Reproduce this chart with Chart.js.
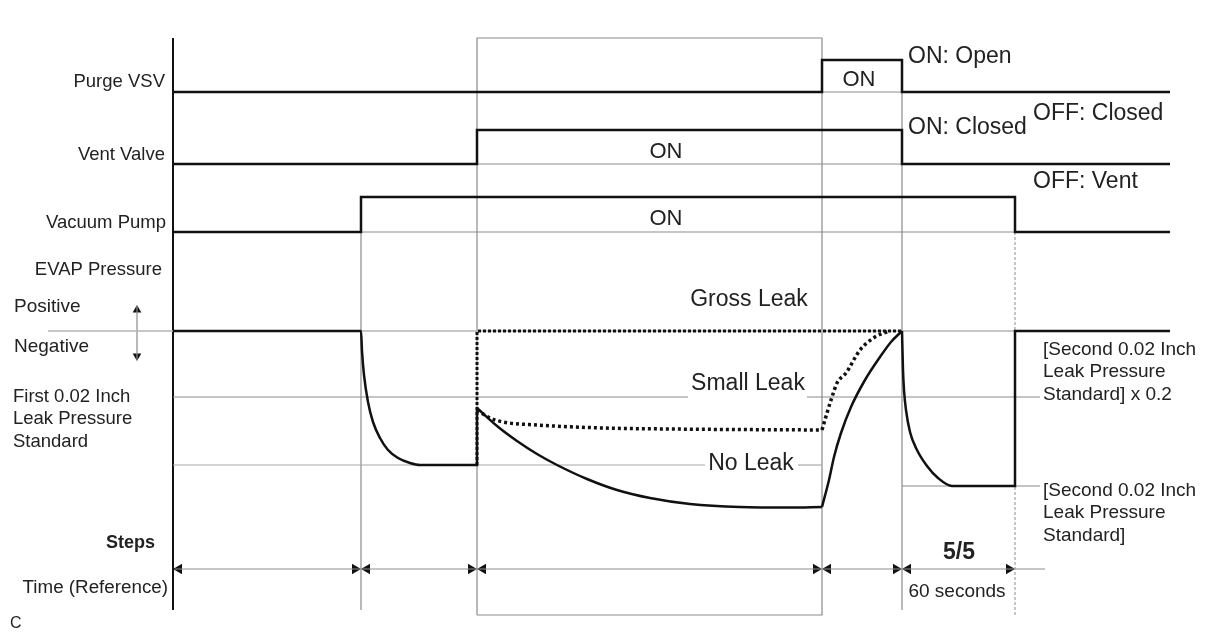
<!DOCTYPE html>
<html>
<head>
<meta charset="utf-8">
<script src="https://cdn.jsdelivr.net/npm/chart.js@4/dist/chart.umd.min.js"></script>
<style>
  html, body { margin: 0; padding: 0; background: #fff; }
  #wrap { width: 1212px; height: 634px; }
</style>
</head>
<body>
<div id="wrap"><canvas id="chart" width="1212" height="634"></canvas></div>
<script>
// time marks where the steps change
const stepBounds = [173, 361, 477, 822, 902, 1015];
const timeEnd = 1170;

// on/off signals: change times and state after each change
const purgeTimes = [173, 822, 902, 1170];
const purgeStates = [0, 1, 0, 0];
const ventTimes = [173, 477, 902, 1170];
const ventStates = [0, 1, 0, 0];
const pumpTimes = [173, 361, 1015, 1170];
const pumpStates = [0, 1, 0, 0];

// EVAP pressure, 0 = atmosphere, negative = vacuum
const pumpDownTimes = [173, 361, 362, 364, 368, 373, 380, 388, 398, 410, 420, 477, 477];
const pumpDownPressure = [0, 0, -20, -44, -71, -91, -107, -119, -127, -132, -134, -134, -77];
const noLeakTimes = [477, 497, 517, 537, 557, 587, 617, 650, 690, 740, 790, 822];
const noLeakPressure = [-77, -95, -110, -123, -134, -148, -159, -167, -173, -176, -176.5, -176];
const riseTimes = [822, 829, 834, 841, 851, 865, 880, 891, 902];
const risePressure = [-176, -149, -126, -102, -76, -49, -26, -11, 0];
const checkTimes = [902, 903, 904, 906, 910, 917, 927, 938, 952, 1015, 1015, 1170];
const checkPressure = [0, -39, -59, -79, -101, -119, -135, -147, -155, -155, 0, 0];
const smallLeakTimes = [477, 490, 503, 537, 603, 670, 822];
const smallLeakPressure = [-79, -87, -91, -94, -97, -98, -99];
const smallRiseTimes = [822, 827, 832, 837, 846, 860, 875, 889];
const smallRisePressure = [-99, -82, -66, -52, -42, -19, -6, 0];
const grossLeakTimes = [477, 477, 902];
const grossLeakPressure = [-134, 0, 0];

// reference pressure levels
const atmosphere = 0;
const smallLeakLevel = -66;
const firstStandard = -134;
const secondStandard = -155;

const FONT = '"Liberation Sans", Arial, sans-serif';
const H = 634;

function pts(xs, ys) {
    return xs.map((x, i) => ({ x, y: ys[i] }));
}

function rowAxis(lowPx, highPx) {
    const unit = lowPx - highPx;
    return { type: 'linear', display: false, min: -(H - lowPx) / unit, max: lowPx / unit };
}

function line(data, yAxisID, extra = {}) {
    return {
        data,
        yAxisID,
        borderColor: '#111',
        borderWidth: 2.5,
        pointRadius: 0,
        fill: false,
        tension: 0,
        borderJoinStyle: 'miter',
        ...extra,
    };
}

const gray = { borderColor: '#8c8c8c', borderWidth: 1.2 };
const curve = { cubicInterpolationMode: 'monotone' };
const dots = { ...curve, borderDash: [3, 3], borderWidth: 3.5, borderCapStyle: 'butt' };

function onSpan(times, states) {
    const i = states.indexOf(1);
    return [times[i], times[i + 1]];
}

const purgeOn = onSpan(purgeTimes, purgeStates);
const ventOn = onSpan(ventTimes, ventStates);
const pumpOn = onSpan(pumpTimes, pumpStates);

const first = stepBounds[0];
const last = stepBounds[stepBounds.length - 1];

const arrowPts = [];
const arrowRot = [];
stepBounds.forEach((b) => {
    if (b !== first) { arrowPts.push({ x: b - 6, y: 569 }); arrowRot.push(90); }
    if (b !== last) { arrowPts.push({ x: b + 6, y: 569 }); arrowRot.push(-90); }
});

const datasets = [
    // signals
    line(pts(purgeTimes, purgeStates), 'yPurge', { stepped: 'before' }),
    line(pts(ventTimes, ventStates), 'yVent', { stepped: 'before' }),
    line(pts(pumpTimes, pumpStates), 'yPump', { stepped: 'before' }),
    // pressure traces
    line(pts(pumpDownTimes, pumpDownPressure), 'yP', curve),
    line(pts(noLeakTimes, noLeakPressure), 'yP', curve),
    line(pts(riseTimes, risePressure), 'yP', curve),
    line(pts(checkTimes, checkPressure), 'yP', curve),
    line(pts(smallLeakTimes, smallLeakPressure), 'yP', dots),
    line(pts(smallRiseTimes, smallRisePressure), 'yP', dots),
    line(pts(grossLeakTimes, grossLeakPressure), 'yP', { borderDash: [3, 2], borderWidth: 3 }),
    // off baselines under the ON pulses
    line(pts(purgeOn, [0, 0]), 'yPurge', gray),
    line(pts(ventOn, [0, 0]), 'yVent', gray),
    line(pts(pumpOn, [0, 0]), 'yPump', gray),
    // reference levels
    line(pts([48, timeEnd], [atmosphere, atmosphere]), 'yP', { borderColor: '#b5b5b5', borderWidth: 1.5 }),
    line(pts([first, 688], [smallLeakLevel, smallLeakLevel]), 'yP', gray),
    line(pts([807, 1040], [smallLeakLevel, smallLeakLevel]), 'yP', gray),
    line(pts([first, 705], [firstStandard, firstStandard]), 'yP', { ...gray, borderColor: '#a8a8a8' }),
    line(pts([798, stepBounds[3]], [firstStandard, firstStandard]), 'yP', { ...gray, borderColor: '#a8a8a8' }),
    line(pts([stepBounds[4], 1040], [secondStandard, secondStandard]), 'yP', gray),
    // frame and step marks
    line(pts([first, first], [38, 610]), 'yL', { borderWidth: 2 }),
    line(pts([stepBounds[2], stepBounds[2], stepBounds[3], stepBounds[3], stepBounds[2]], [615, 38, 38, 615, 615]), 'yL', gray),
    line(pts([stepBounds[1], stepBounds[1]], [197, 610]), 'yL', gray),
    line(pts([stepBounds[4], stepBounds[4]], [60, 610]), 'yL', gray),
    line(pts([last, last], [197, 615]), 'yL', { ...gray, borderDash: [3, 2], borderColor: '#a0a0a0' }),
    // time row
    line(pts([first + 2, 1045], [569, 569]), 'yL', gray),
    {
        data: arrowPts, yAxisID: 'yL', showLine: false,
        pointStyle: 'triangle', pointRadius: 6, pointRotation: arrowRot,
        pointBackgroundColor: '#111', pointBorderColor: '#111', pointBorderWidth: 0,
    },
    // positive / negative arrow
    line(pts([137, 137], [306, 360]), 'yL', gray),
    {
        data: [{ x: 137, y: 310 }, { x: 137, y: 356 }], yAxisID: 'yL', showLine: false,
        pointStyle: 'triangle', pointRadius: 5, pointRotation: [0, 180],
        pointBackgroundColor: '#111', pointBorderColor: '#111', pointBorderWidth: 0,
    },
];

const texts = {
    id: 'texts',
    afterDatasetsDraw(chart) {
        const { ctx } = chart;
        const items = [
            ['Purge VSV', 165, 87, 'right', 18.5],
            ['Vent Valve', 165, 160, 'right', 18.5],
            ['Vacuum Pump', 166, 228, 'right', 18.5],
            ['EVAP Pressure', 162, 275, 'right', 18.5],
            ['Positive', 14, 312, 'left', 19],
            ['Negative', 14, 352, 'left', 19],
            ['First 0.02 Inch', 13, 402, 'left', 18.5],
            ['Leak Pressure', 13, 424, 'left', 18.5],
            ['Standard', 13, 447, 'left', 18.5],
            ['Steps', 155, 548, 'right', 18, 'bold'],
            ['Time (Reference)', 168, 593, 'right', 18.8],
            ['C', 10, 628, 'left', 16],
            ['ON', 859, 86, 'center', 22],
            ['ON', 666, 158, 'center', 22],
            ['ON', 666, 225, 'center', 22],
            ['ON: Open', 908, 63, 'left', 23],
            ['OFF: Closed', 1033, 120, 'left', 23],
            ['ON: Closed', 908, 134, 'left', 23],
            ['OFF: Vent', 1033, 188, 'left', 23],
            ['Gross Leak', 749, 306, 'center', 23],
            ['Small Leak', 748, 390, 'center', 23],
            ['No Leak', 751, 470, 'center', 23],
            ['[Second 0.02 Inch', 1043, 355, 'left', 19],
            ['Leak Pressure', 1043, 377, 'left', 19],
            ['Standard] x 0.2', 1043, 400, 'left', 19],
            ['[Second 0.02 Inch', 1043, 496, 'left', 19],
            ['Leak Pressure', 1043, 518, 'left', 19],
            ['Standard]', 1043, 541, 'left', 19],
            ['5/5', 959, 559, 'center', 23, 'bold'],
            ['60 seconds', 957, 597, 'center', 19],
        ];
        ctx.save();
        ctx.fillStyle = '#222';
        ctx.textBaseline = 'alphabetic';
        items.forEach(([t, x, y, align, size, weight]) => {
            ctx.font = `${weight || 'normal'} ${size}px ${FONT}`;
            ctx.textAlign = align;
            ctx.fillText(t, x, y);
        });
        ctx.restore();
    },
};

new Chart(document.getElementById('chart'), {
    type: 'line',
    data: { datasets },
    options: {
        responsive: false,
        animation: false,
        events: [],
        layout: { padding: 0, autoPadding: false },
        plugins: { legend: { display: false }, tooltip: { enabled: false } },
        scales: {
            x: { type: 'linear', display: false, min: 0, max: 1212 },
            yL: { type: 'linear', display: false, min: 0, max: H, reverse: true },
            yP: { type: 'linear', display: false, min: -(H - 331), max: 331 },
            yPurge: rowAxis(92, 60),
            yVent: rowAxis(164, 130),
            yPump: rowAxis(232, 197),
        },
    },
    plugins: [texts],
});
</script>
</body>
</html>
